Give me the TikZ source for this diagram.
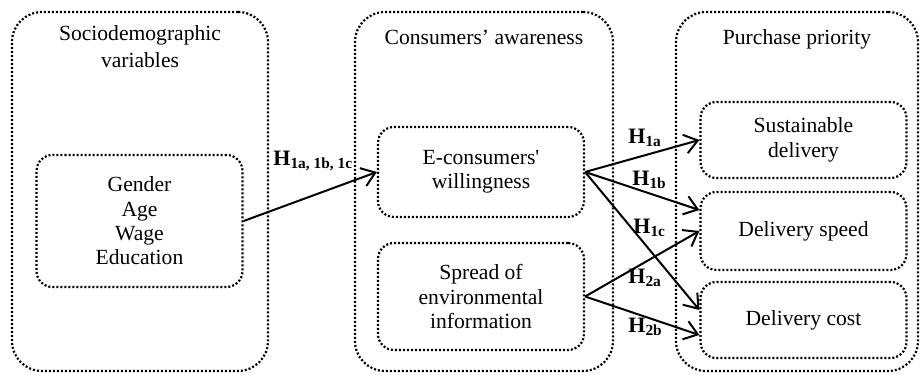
\documentclass[tikz,border=0pt]{standalone}
\usepackage{fontspec}
\setmainfont{Liberation Serif}
\usetikzlibrary{arrows.meta}

\begin{document}
\begin{tikzpicture}[x=0.5pt,y=-0.5pt,
  outerbox/.style={draw,rounded corners=15pt,line width=1.1pt,dash pattern=on 1pt off 1pt,minimum height=179.5pt,inner sep=0pt},
  innerbox/.style={draw,rounded corners=8pt,line width=1.1pt,dash pattern=on 1pt off 1pt,minimum width=103pt,align=center,font=\fontsize{10.8}{12.2}\selectfont},
  title/.style={align=center,anchor=base,font=\fontsize{10.8}{13.8}\selectfont},
  hyp/.style={anchor=base west,inner sep=0pt,font=\fontsize{11}{13}\selectfont\bfseries},
  link/.style={line width=1pt,-{Straight Barb[length=6.5pt,width=9.5pt]}}]
\useasboundingbox (0,0) rectangle (922,375);
\node[outerbox,minimum width=128pt] (demo) at (140,191.5) {};
\node[outerbox,minimum width=129pt] (aware) at (484,191.5) {};
\node[outerbox,minimum width=121pt] (prio) at (797,191.5) {};
\node[title] (demotitle) at (140,68) {Sociodemographic\\variables};
\node[title] (awaretitle) at (484,45) {Consumers’ awareness};
\node[title] (priotitle) at (797,45) {Purchase priority};
\node[innerbox,minimum height=66pt] (gender) at (139.5,221) {Gender\\Age\\Wage\\Education};
\node[innerbox,minimum height=45pt] (willing) at (481,172) {E-consumers\textquotesingle\\willingness};
\node[innerbox,minimum height=53.5pt] (spread) at (481,296.5) {Spread of\\environmental\\information};
\node[innerbox,minimum height=38pt] (sust) at (803.5,140) {Sustainable\\delivery};
\node[innerbox,minimum height=39pt] (speed) at (803.5,231) {Delivery speed};
\node[innerbox,minimum height=38pt] (cost) at (803.5,320) {Delivery cost};
\draw[link] (gender.east) -- (willing.west);
\draw[link] (willing.east) -- (sust.west);
\draw[link] (willing.east) -- ([yshift=10.5pt]speed.west);
\draw[link] (willing.east) -- ([yshift=5pt]cost.west);
\draw[link] (spread.east) -- (speed.west);
\draw[link] (spread.east) -- ([yshift=-7.5pt]cost.west);
\node[hyp] (h1) at (273,165) {H\textsubscript{1a, 1b, 1c}};
\node[hyp] (h1a) at (628,143) {H\textsubscript{1a}};
\node[hyp] (h1b) at (632,185) {H\textsubscript{1b}};
\node[hyp] (h1c) at (633,233) {H\textsubscript{1c}};
\node[hyp] (h2a) at (628,283) {H\textsubscript{2a}};
\node[hyp] (h2b) at (628,332) {H\textsubscript{2b}};
\end{tikzpicture}
\end{document}
